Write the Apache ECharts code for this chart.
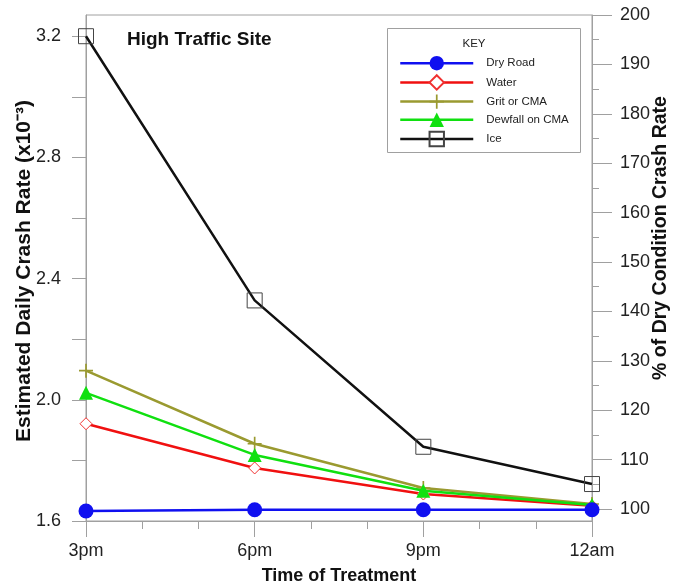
<!DOCTYPE html>
<html><head><meta charset="utf-8">
<script src="https://cdn.jsdelivr.net/npm/echarts@6/dist/echarts.min.js"></script>
<style>html,body{margin:0;padding:0;background:#fff}#c{width:675px;height:588px}</style>
</head><body><div id="c"></div>
<script>
const hours = [0, 3, 6, 9];
const xLabels = ['3pm', '6pm', '9pm', '12am'];
const dryRoad = [1.633, 1.637, 1.637, 1.637];
const water = [1.921, 1.775, 1.689, 1.650];
const grit = [2.096, 1.855, 1.709, 1.656];
const dewfall = [2.023, 1.818, 1.700, 1.653];
const ice = [3.200, 2.328, 1.845, 1.722];
const leftLabels = [1.6, 2.0, 2.4, 2.8, 3.2];
const leftTicks = [1.6, 1.8, 2.0, 2.2, 2.4, 2.6, 2.8, 3.0, 3.2];
const rightLabels = [100, 110, 120, 130, 140, 150, 160, 170, 180, 190, 200];
const rightMinor = [105, 115, 125, 135, 145, 155, 165, 175, 185, 195];

const FONT = '"Liberation Sans", Arial, sans-serif';
const pair = arr => hours.map((h, i) => [h, arr[i]]);
const plus = 'path://M-1.2,-10 L1.2,-10 L1.2,-1.2 L10,-1.2 L10,1.2 L1.2,1.2 L1.2,10 L-1.2,10 L-1.2,1.2 L-10,1.2 L-10,-1.2 L-1.2,-1.2 Z';

const chart = echarts.init(document.getElementById('c'));
chart.setOption({
  animation: false,
  textStyle: { fontFamily: FONT },
  grid: { left: 86, right: 83, top: 15, bottom: 67, show: true, borderColor: '#a0a0a0', borderWidth: 1, outerBoundsMode: 'none', containLabel: false },
  title: { text: 'High Traffic Site', left: 122, top: 25, textStyle: { fontFamily: FONT, fontSize: 19, fontWeight: 'bold', color: '#111' } },
  legend: {
    orient: 'vertical', left: 394, top: 51, itemWidth: 73, itemHeight: 18, itemGap: 3.8,
    lineStyle: { width: 2.5 },
    textStyle: { fontFamily: FONT, fontSize: 11.5, color: '#222', padding: [0, 0, 0, 8] },
    data: ['Dry Road', 'Water', 'Grit or CMA', 'Dewfall on CMA', 'Ice']
  },
  graphic: [
    { type: 'rect', shape: { x: 387.5, y: 28.5, width: 193, height: 124 }, style: { fill: 'none', stroke: '#a0a0a0', lineWidth: 1 } },
    { type: 'text', x: 474, y: 44, style: { text: 'KEY', fontFamily: FONT, fontSize: 11.5, fill: '#222', textAlign: 'center', textVerticalAlign: 'middle' } },
    { type: 'text', x: 24, y: 271, rotation: Math.PI / 2, style: { text: 'Estimated Daily Crash Rate (x10⁻³)', fontFamily: FONT, fontSize: 21, fontWeight: 'bold', fill: '#111', textAlign: 'center', textVerticalAlign: 'middle' } },
    { type: 'text', x: 661, y: 238, rotation: Math.PI / 2, style: { text: '% of Dry Condition Crash Rate', fontFamily: FONT, fontSize: 19.5, fontWeight: 'bold', fill: '#111', textAlign: 'center', textVerticalAlign: 'middle' } }
  ],
  xAxis: {
    type: 'value', min: 0, max: 9, interval: 3,
    name: 'Time of Treatment', nameLocation: 'middle', nameGap: 46,
    nameTextStyle: { fontFamily: FONT, fontSize: 18, fontWeight: 'bold', color: '#111' },
    axisLine: { lineStyle: { color: '#a0a0a0' } },
    axisTick: { length: 16, lineStyle: { color: '#a0a0a0' } },
    minorTick: { show: true, splitNumber: 3, length: 8, lineStyle: { color: '#a0a0a0' } },
    splitLine: { show: false },
    axisLabel: { margin: 21, fontSize: 18, color: '#222', formatter: v => xLabels[hours.indexOf(v)] || '' }
  },
  yAxis: [
    {
      type: 'value', position: 'left', min: 1.6, max: 3.27,
      axisLine: { show: true, lineStyle: { color: '#a0a0a0' } },
      axisTick: { show: true, length: 14, customValues: leftTicks, lineStyle: { color: '#a0a0a0' } },
      splitLine: { show: false },
      axisLabel: { margin: 25, fontSize: 18, color: '#222', customValues: leftLabels, formatter: v => v.toFixed(1) }
    },
    {
      type: 'value', position: 'right', min: 97.57, max: 200,
      axisLine: { show: true, lineStyle: { color: '#a0a0a0' } },
      axisTick: { show: true, length: 20, customValues: rightLabels, lineStyle: { color: '#a0a0a0' } },
      splitLine: { show: false },
      axisLabel: { margin: 28, fontSize: 18, color: '#222', customValues: rightLabels, formatter: v => String(v) }
    },
    {
      type: 'value', position: 'right', min: 97.57, max: 200,
      axisLine: { show: false },
      axisTick: { show: true, length: 7, customValues: rightMinor, lineStyle: { color: '#a0a0a0' } },
      splitLine: { show: false },
      axisLabel: { show: false }
    }
  ],
  series: [
    { name: 'Dry Road', type: 'line', data: pair(dryRoad), symbol: 'circle', symbolSize: 15,
      lineStyle: { color: '#1010f0', width: 2.5 }, itemStyle: { color: '#1010f0' }, z: 5 },
    { name: 'Water', type: 'line', data: pair(water), symbol: 'diamond', symbolSize: 12,
      lineStyle: { color: '#f01010', width: 2.5 }, itemStyle: { color: '#fff', borderColor: '#f03030', borderWidth: 1 }, z: 3 },
    { name: 'Grit or CMA', type: 'line', data: pair(grit), symbol: plus, symbolSize: 14,
      lineStyle: { color: '#9a9a30', width: 2.5 }, itemStyle: { color: '#9a9a30' }, z: 2 },
    { name: 'Dewfall on CMA', type: 'line', data: pair(dewfall), symbol: 'triangle', symbolSize: 14,
      lineStyle: { color: '#10e010', width: 2.5 }, itemStyle: { color: '#10e010' }, z: 4 },
    { name: 'Ice', type: 'line', data: pair(ice), symbol: 'rect', symbolSize: 15,
      lineStyle: { color: '#111', width: 2.5 }, itemStyle: { color: 'rgba(255,255,255,0)', borderColor: '#444', borderWidth: 1 }, z: 6 }
  ]
});
</script></body></html>
